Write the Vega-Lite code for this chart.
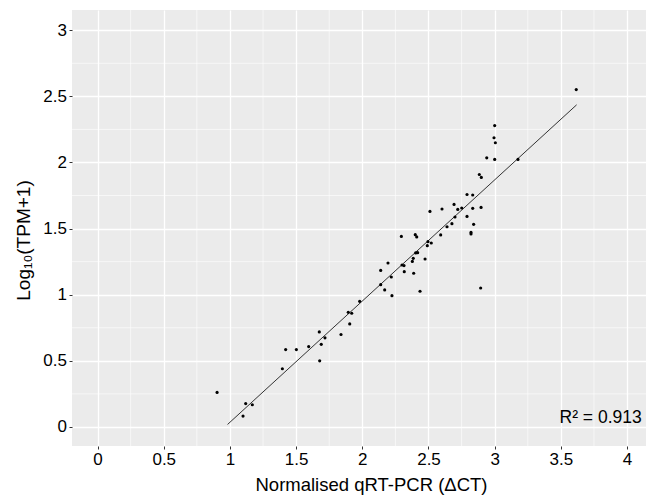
{
  "$schema": "https://vega.github.io/schema/vega-lite/v6.json",
  "width": 574,
  "height": 436,
  "autosize": "none",
  "padding": {"left": 72, "top": 10, "right": 0, "bottom": 52},
  "background": "white",
  "config": {
    "view": {"fill": "#EBEBEB", "stroke": null},
    "axis": {
      "domain": false,
      "grid": true,
      "gridColor": "#FFFFFF",
      "gridWidth": 1.3,
      "tickColor": "#333333",
      "tickSize": 3,
      "tickWidth": 1,
      "labelFont": "Liberation Sans",
      "labelFontSize": 17,
      "labelColor": "#000000",
      "titleFont": "Liberation Sans",
      "titleFontWeight": "normal",
      "titleColor": "#000000"
    },
    "axisX": {"titleFontSize": 18.5, "labelPadding": 2.5, "titlePadding": 8, "titleX": 299},
    "axisY": {"titleFontSize": 19, "labelPadding": 2.5, "titlePadding": 9, "titleY": 230}
  },
  "datasets": {
    "points": [
      {"dct": 0.903, "logtpm": 0.261},
      {"dct": 1.119, "logtpm": 0.177},
      {"dct": 1.169, "logtpm": 0.168},
      {"dct": 1.099, "logtpm": 0.082},
      {"dct": 1.396, "logtpm": 0.440},
      {"dct": 1.421, "logtpm": 0.585},
      {"dct": 1.502, "logtpm": 0.585},
      {"dct": 1.595, "logtpm": 0.608},
      {"dct": 1.675, "logtpm": 0.719},
      {"dct": 1.678, "logtpm": 0.500},
      {"dct": 1.690, "logtpm": 0.625},
      {"dct": 1.718, "logtpm": 0.674},
      {"dct": 1.839, "logtpm": 0.699},
      {"dct": 1.894, "logtpm": 0.867},
      {"dct": 1.920, "logtpm": 0.860},
      {"dct": 1.905, "logtpm": 0.779},
      {"dct": 1.980, "logtpm": 0.950},
      {"dct": 2.791, "logtpm": 1.758},
      {"dct": 2.834, "logtpm": 1.754},
      {"dct": 2.693, "logtpm": 1.683},
      {"dct": 2.511, "logtpm": 1.630},
      {"dct": 2.602, "logtpm": 1.648},
      {"dct": 2.721, "logtpm": 1.645},
      {"dct": 2.751, "logtpm": 1.656},
      {"dct": 2.834, "logtpm": 1.653},
      {"dct": 2.897, "logtpm": 1.660},
      {"dct": 2.700, "logtpm": 1.588},
      {"dct": 2.791, "logtpm": 1.592},
      {"dct": 2.677, "logtpm": 1.537},
      {"dct": 2.640, "logtpm": 1.514},
      {"dct": 2.841, "logtpm": 1.532},
      {"dct": 2.592, "logtpm": 1.452},
      {"dct": 2.821, "logtpm": 1.471},
      {"dct": 2.821, "logtpm": 1.459},
      {"dct": 2.295, "logtpm": 1.441},
      {"dct": 2.400, "logtpm": 1.454},
      {"dct": 2.411, "logtpm": 1.437},
      {"dct": 2.496, "logtpm": 1.401},
      {"dct": 2.521, "logtpm": 1.391},
      {"dct": 2.491, "logtpm": 1.371},
      {"dct": 2.403, "logtpm": 1.316},
      {"dct": 2.418, "logtpm": 1.318},
      {"dct": 2.385, "logtpm": 1.275},
      {"dct": 2.378, "logtpm": 1.252},
      {"dct": 2.474, "logtpm": 1.270},
      {"dct": 2.194, "logtpm": 1.240},
      {"dct": 2.300, "logtpm": 1.225},
      {"dct": 2.315, "logtpm": 1.220},
      {"dct": 2.139, "logtpm": 1.184},
      {"dct": 2.317, "logtpm": 1.174},
      {"dct": 2.388, "logtpm": 1.162},
      {"dct": 2.219, "logtpm": 1.134},
      {"dct": 2.139, "logtpm": 1.076},
      {"dct": 2.169, "logtpm": 1.036},
      {"dct": 2.436, "logtpm": 1.026},
      {"dct": 2.224, "logtpm": 0.993},
      {"dct": 2.894, "logtpm": 1.051},
      {"dct": 3.616, "logtpm": 2.551},
      {"dct": 3.000, "logtpm": 2.279},
      {"dct": 2.995, "logtpm": 2.187},
      {"dct": 3.005, "logtpm": 2.149},
      {"dct": 2.940, "logtpm": 2.035},
      {"dct": 3.000, "logtpm": 2.023},
      {"dct": 3.176, "logtpm": 2.023},
      {"dct": 2.884, "logtpm": 1.909},
      {"dct": 2.899, "logtpm": 1.887}
    ],
    "fit": [
      {"dct": 0.982, "logtpm": 0.019},
      {"dct": 3.619, "logtpm": 2.436}
    ],
    "minorx": [
      {"dct": 0.25}, {"dct": 0.75}, {"dct": 1.25}, {"dct": 1.75},
      {"dct": 2.25}, {"dct": 2.75}, {"dct": 3.25}, {"dct": 3.75}
    ],
    "minory": [
      {"logtpm": 0.25}, {"logtpm": 0.75}, {"logtpm": 1.25}, {"logtpm": 1.75},
      {"logtpm": 2.25}, {"logtpm": 2.75}
    ]
  },
  "layer": [
    {
      "data": {"name": "minorx"},
      "mark": {"type": "rule", "color": "#FFFFFF", "strokeWidth": 0.6},
      "encoding": {
        "x": {
          "field": "dct", "type": "quantitative",
          "scale": {"domain": [-0.193, 4.143], "nice": false, "zero": false},
          "axis": {"values": [0, 0.5, 1, 1.5, 2, 2.5, 3, 3.5, 4], "format": "~g", "title": "Normalised qRT-PCR (ΔCT)"}
        }
      }
    },
    {
      "data": {"name": "minory"},
      "mark": {"type": "rule", "color": "#FFFFFF", "strokeWidth": 0.6},
      "encoding": {
        "y": {
          "field": "logtpm", "type": "quantitative",
          "scale": {"domain": [-0.144, 3.153], "nice": false, "zero": false},
          "axis": {"values": [0, 0.5, 1, 1.5, 2, 2.5, 3], "format": "~g", "title": "Log₁₀(TPM+1)"}
        }
      }
    },
    {
      "data": {"name": "fit"},
      "mark": {"type": "line", "color": "#333333", "strokeWidth": 1},
      "encoding": {
        "x": {
          "field": "dct", "type": "quantitative",
          "scale": {"domain": [-0.193, 4.143], "nice": false, "zero": false},
          "axis": {"values": [0, 0.5, 1, 1.5, 2, 2.5, 3, 3.5, 4], "format": "~g", "title": "Normalised qRT-PCR (ΔCT)"}
        },
        "y": {
          "field": "logtpm", "type": "quantitative",
          "scale": {"domain": [-0.144, 3.153], "nice": false, "zero": false},
          "axis": {"values": [0, 0.5, 1, 1.5, 2, 2.5, 3], "format": "~g", "title": "Log₁₀(TPM+1)"}
        }
      }
    },
    {
      "data": {"name": "points"},
      "mark": {"type": "circle", "color": "#000000", "size": 10, "opacity": 1},
      "encoding": {
        "x": {
          "field": "dct", "type": "quantitative",
          "scale": {"domain": [-0.193, 4.143], "nice": false, "zero": false},
          "axis": {"values": [0, 0.5, 1, 1.5, 2, 2.5, 3, 3.5, 4], "format": "~g", "title": "Normalised qRT-PCR (ΔCT)"}
        },
        "y": {
          "field": "logtpm", "type": "quantitative",
          "scale": {"domain": [-0.144, 3.153], "nice": false, "zero": false},
          "axis": {"values": [0, 0.5, 1, 1.5, 2, 2.5, 3], "format": "~g", "title": "Log₁₀(TPM+1)"}
        }
      }
    },
    {
      "data": {"values": [{"label": "R² = 0.913"}]},
      "mark": {"type": "text", "font": "Liberation Sans", "fontSize": 17.5, "color": "#000000", "align": "center", "baseline": "middle"},
      "encoding": {
        "x": {
          "datum": 3.80, "type": "quantitative",
          "scale": {"domain": [-0.193, 4.143], "nice": false, "zero": false},
          "axis": {"values": [0, 0.5, 1, 1.5, 2, 2.5, 3, 3.5, 4], "format": "~g", "title": "Normalised qRT-PCR (ΔCT)"}
        },
        "y": {
          "datum": 0.07, "type": "quantitative",
          "scale": {"domain": [-0.144, 3.153], "nice": false, "zero": false},
          "axis": {"values": [0, 0.5, 1, 1.5, 2, 2.5, 3], "format": "~g", "title": "Log₁₀(TPM+1)"}
        },
        "text": {"field": "label"}
      }
    }
  ]
}
